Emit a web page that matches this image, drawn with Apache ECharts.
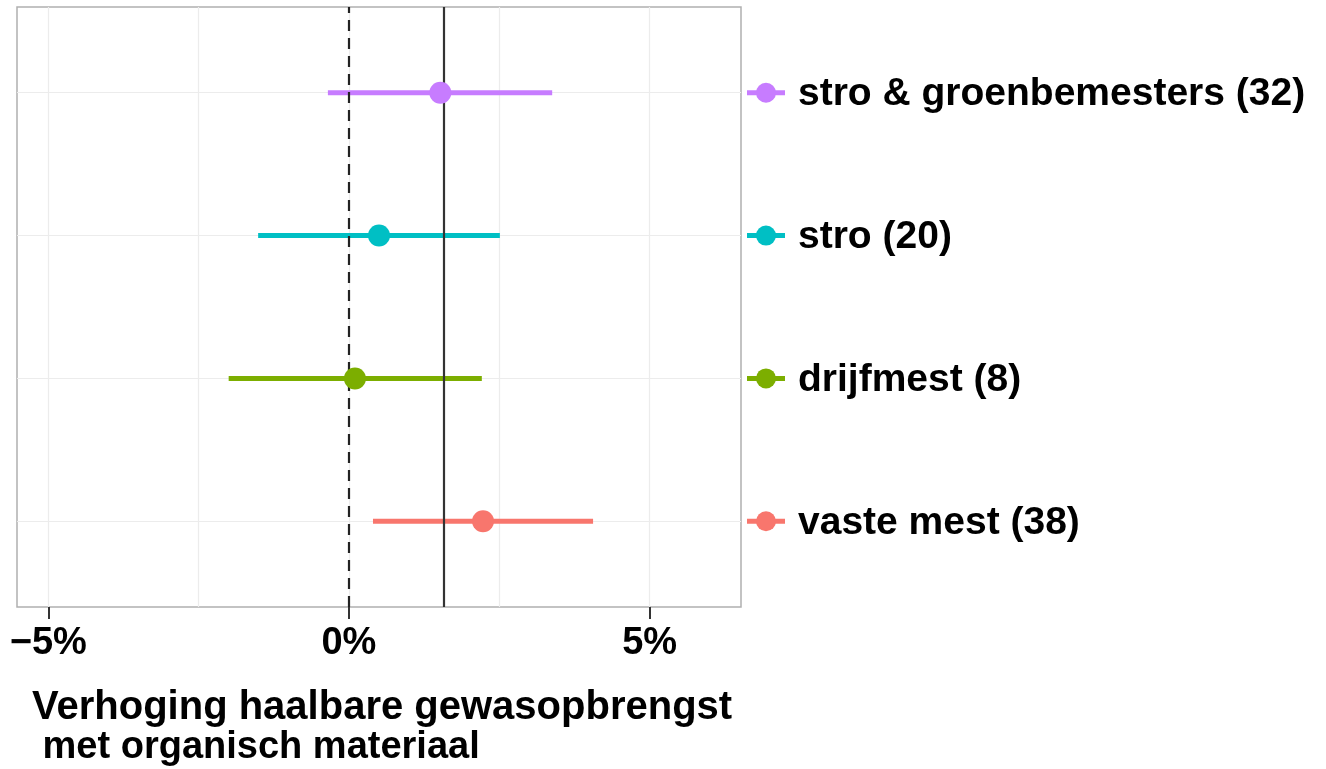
<!DOCTYPE html>
<html>
<head>
<meta charset="utf-8">
<script src="https://cdn.jsdelivr.net/npm/echarts@6/dist/echarts.min.js"></script>
<style>
html,body{margin:0;padding:0;background:#fff;}
#c{width:1326px;height:769px;}
</style>
</head>
<body>
<div id="c"></div>
<script>
// ---- data ----
const categories = ['stro & groenbemesters (32)', 'stro (20)', 'drijfmest (8)', 'vaste mest (38)'];
const positions = [4, 3, 2, 1];
const estimates = [1.52, 0.50, 0.10, 2.23];
const lower = [-0.35, -1.51, -2.00, 0.40];
const upper = [3.38, 2.51, 2.21, 4.06];
const colors = ['#C77CFF', '#00BFC4', '#7CAE00', '#F8766D'];
const overallMean = 1.58;
const xTicks = [-5, 0, 5];
const xMinorTicks = [-2.5, 2.5];
const xLimits = [-5.52, 6.52];
const yLimits = [0.4, 4.6];
const axisTitleLines = ['Verhoging haalbare gewasopbrengst', ' met organisch materiaal'];

const FONT = '"Liberation Sans", Arial, Helvetica, sans-serif';
const chart = echarts.init(document.getElementById('c'));

const pointData = categories.map((c, i) => ({value: [estimates[i], positions[i]], name: c, itemStyle: {color: colors[i], opacity: 1}}));
const barData = categories.map((c, i) => ({value: [lower[i], upper[i], positions[i]], itemStyle: {color: colors[i]}}));
const legendDots = categories.map((c, i) => ({value: [0.5, positions[i]], name: c, itemStyle: {color: colors[i], opacity: 1}}));
const legendBars = categories.map((c, i) => ({value: [0, 1, positions[i]], itemStyle: {color: colors[i]}}));

function barRender(params, api) {
  const a = api.coord([api.value(0), api.value(2)]);
  const b = api.coord([api.value(1), api.value(2)]);
  return {
    type: 'line',
    shape: {x1: a[0], y1: a[1], x2: b[0], y2: b[1]},
    style: {stroke: api.visual('color'), lineWidth: 5, lineCap: 'butt'}
  };
}

const gridLinesX = xTicks.concat(xMinorTicks).map(v => ({xAxis: v}));
const gridLinesY = positions.map(v => ({yAxis: v}));

chart.setOption({
  animation: false,
  backgroundColor: '#ffffff',
  title: {
    text: '{a|' + axisTitleLines[0] + '}\n{b|' + axisTitleLines[1] + '}',
    left: 27, top: 683,
    textStyle: {
      fontFamily: FONT, fontWeight: 'bold', fontSize: 40, lineHeight: 40, color: '#000',
      rich: {
        a: {fontFamily: FONT, fontWeight: 'bold', fontSize: 40, lineHeight: 40, color: '#000'},
        b: {fontFamily: FONT, fontWeight: 'bold', fontSize: 38, lineHeight: 40, color: '#000'}
      }
    }
  },
  grid: [
    {left: 17, right: 585, top: 7, bottom: 162, show: true, borderColor: '#b0b0b0', borderWidth: 1.5, backgroundColor: 'transparent'},
    {left: 747, width: 38, top: 7, bottom: 162, show: false}
  ],
  xAxis: [
    {
      gridIndex: 0, type: 'value', min: xLimits[0], max: xLimits[1],
      axisLine: {show: false},
      splitLine: {show: false},
      axisTick: {show: true, customValues: xTicks, length: 12, lineStyle: {color: '#333', width: 2}},
      axisLabel: {
        customValues: xTicks, margin: 18,
        fontFamily: FONT, fontWeight: 'bold', fontSize: 38, color: '#000',
        formatter: v => (v < 0 ? '\u2212' + Math.abs(v) : v) + '%'
      }
    },
    {gridIndex: 1, type: 'value', min: 0, max: 1, show: false}
  ],
  yAxis: [
    {gridIndex: 0, type: 'value', min: yLimits[0], max: yLimits[1], show: false},
    {gridIndex: 1, type: 'value', min: yLimits[0], max: yLimits[1], show: false}
  ],
  series: [
    {
      type: 'scatter', xAxisIndex: 0, yAxisIndex: 0, data: [], silent: true, z: 1,
      markLine: {
        silent: true, symbol: 'none', label: {show: false}, z: 1,
        lineStyle: {color: '#ececec', width: 1.2, type: 'solid'},
        data: gridLinesX.concat(gridLinesY)
      }
    },
    {
      type: 'custom', xAxisIndex: 0, yAxisIndex: 0, renderItem: barRender,
      encode: {x: [0, 1], y: 2}, data: barData, z: 3
    },
    {
      type: 'scatter', xAxisIndex: 0, yAxisIndex: 0, data: [], silent: true, z: 4,
      markLine: {
        silent: true, symbol: 'none', label: {show: false}, z: 4,
        data: [
          {xAxis: 0, lineStyle: {color: '#222', width: 2.2, type: [11, 7]}},
          {xAxis: overallMean, lineStyle: {color: '#333', width: 2.2, type: 'solid'}}
        ]
      }
    },
    {
      type: 'scatter', xAxisIndex: 0, yAxisIndex: 0, symbol: 'circle', symbolSize: 22,
      data: pointData, z: 6
    },
    {
      type: 'custom', xAxisIndex: 1, yAxisIndex: 1, renderItem: barRender,
      encode: {x: [0, 1], y: 2}, data: legendBars, z: 4
    },
    {
      type: 'scatter', xAxisIndex: 1, yAxisIndex: 1, symbol: 'circle', symbolSize: 20,
      data: legendDots, z: 6,
      label: {
        show: true, position: 'right', distance: 22, offset: [0, 2],
        formatter: p => p.name,
        fontFamily: FONT, fontWeight: 'bold', fontSize: 39, color: '#000'
      }
    }
  ]
});
</script>
</body>
</html>
